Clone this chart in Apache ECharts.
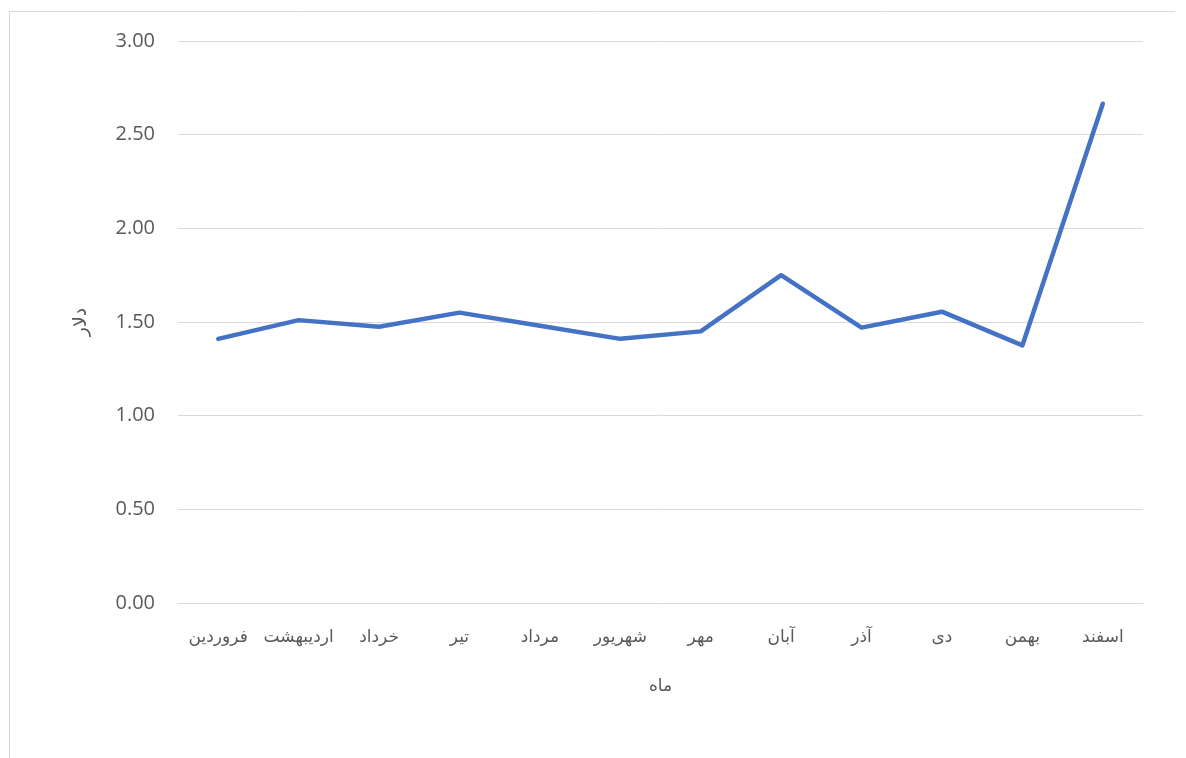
<!DOCTYPE html>
<html>
<head>
<meta charset="utf-8">
<script src="https://cdn.jsdelivr.net/npm/echarts@6/dist/echarts.min.js"></script>
<style>
html,body{margin:0;padding:0;background:#fff;}
#chart{width:1186px;height:758px;}
</style>
</head>
<body>
<div id="chart"></div>
<script>
var months = ['فروردین','اردیبهشت','خرداد','تیر','مرداد','شهریور','مهر','آبان','آذر','دی','بهمن','اسفند'];
var dollarValues = [1.41, 1.51, 1.475, 1.55, 1.48, 1.41, 1.45, 1.75, 1.47, 1.555, 1.375, 2.665];
var yTicks = {min: 0, max: 3, interval: 0.5};
var xAxisTitle = 'ماه';
var yAxisTitle = 'دلار';

var fontFam = '"Open Sans", "DejaVu Sans", sans-serif';
var chart = echarts.init(document.getElementById('chart'));
chart.setOption({
  animation: false,
  backgroundColor: '#ffffff',
  graphic: [{
    type: 'polyline',
    shape: {points: [[9.5, 760], [9.5, 11.5], [1175, 11.5]]},
    style: {stroke: '#d9d9d9', lineWidth: 1, fill: null},
    silent: true
  }],
  grid: {left: 178, right: 43, top: 41, bottom: 155},
  xAxis: {
    type: 'category',
    data: months,
    boundaryGap: true,
    name: xAxisTitle,
    nameLocation: 'middle',
    nameGap: 75,
    nameTextStyle: {fontSize: 17, color: '#595959', fontFamily: fontFam, verticalAlign: 'top'},
    axisLine: {show: true, lineStyle: {color: '#d9d9d9', width: 1}},
    axisTick: {show: false},
    axisLabel: {fontSize: 17, color: '#595959', margin: 26, fontFamily: fontFam, interval: 0}
  },
  yAxis: {
    type: 'value',
    min: yTicks.min,
    max: yTicks.max,
    interval: yTicks.interval,
    name: yAxisTitle,
    nameLocation: 'middle',
    nameGap: 88,
    nameRotate: 90,
    nameTextStyle: {fontSize: 19, color: '#595959', fontFamily: fontFam},
    axisLine: {show: false},
    axisTick: {show: false},
    splitLine: {lineStyle: {color: '#d9d9d9', width: 1}},
    axisLabel: {fontSize: 20, color: '#595959', margin: 23, fontFamily: fontFam, padding: [3, 0, 0, 0],
      formatter: function (v) { return v.toFixed(2); }}
  },
  series: [{
    type: 'line',
    data: dollarValues,
    symbol: 'none',
    lineStyle: {color: '#4472C4', width: 4.5, cap: 'round', join: 'round'},
    itemStyle: {color: '#4472C4'}
  }]
});
</script>
</body>
</html>
